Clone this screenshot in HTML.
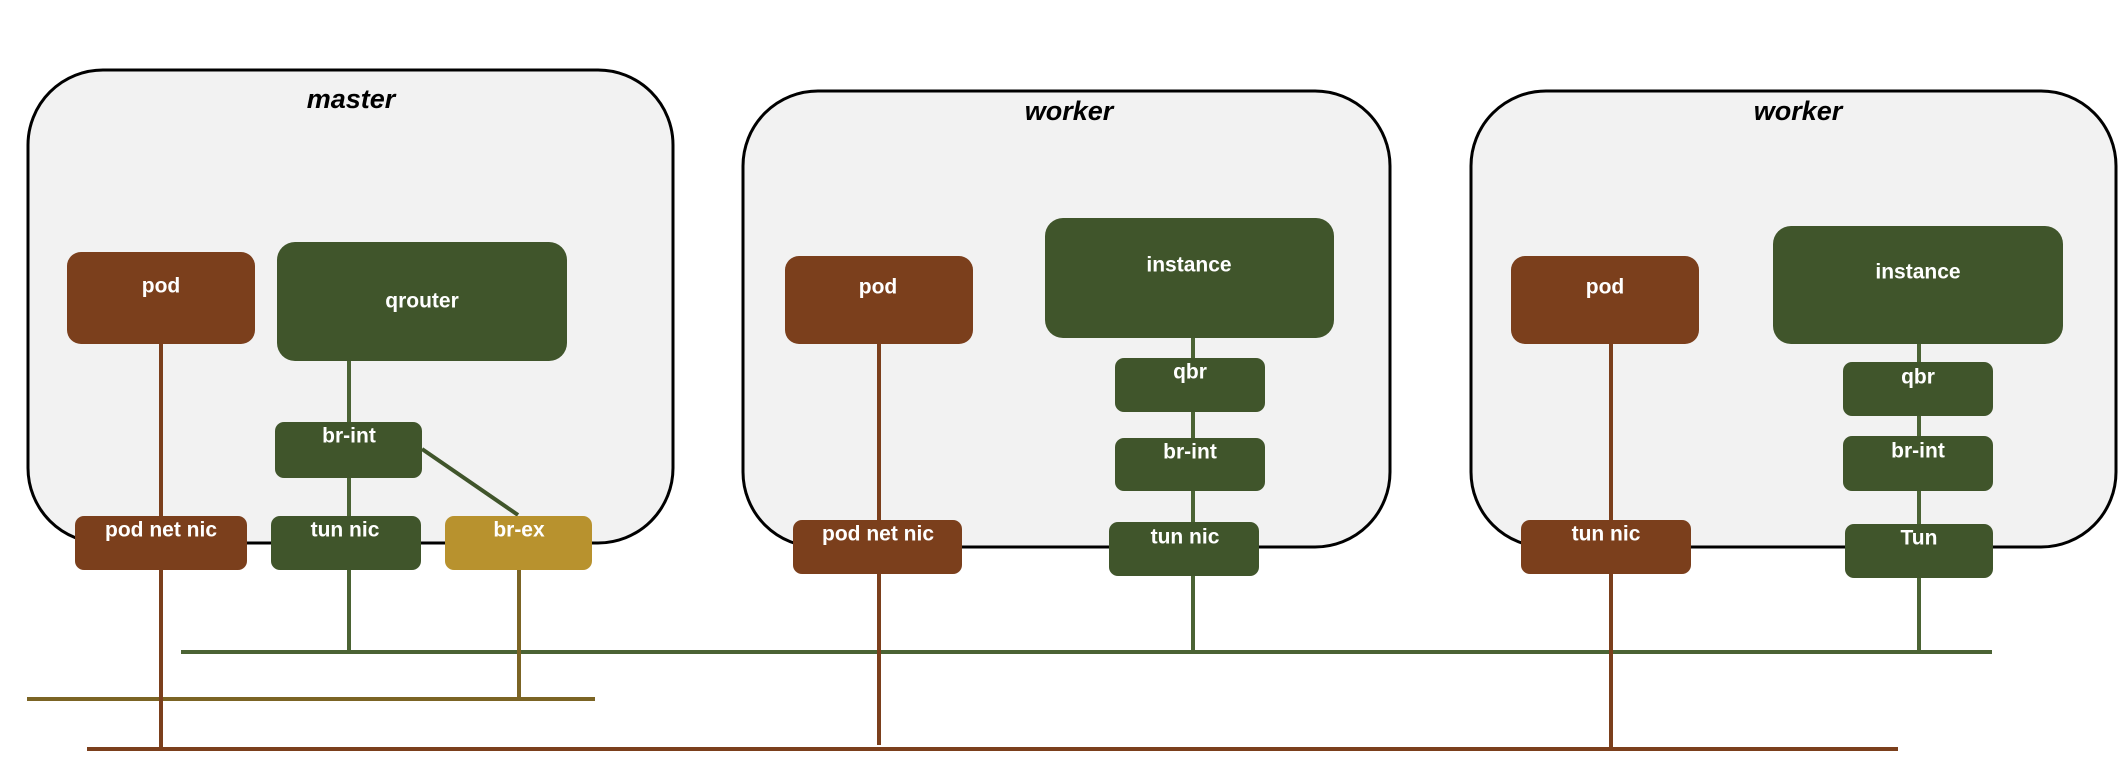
<!DOCTYPE html>
<html><head><meta charset="utf-8"><style>
html,body{margin:0;padding:0;background:#fff;}
svg{display:block;}
text{font-family:"Liberation Sans",sans-serif;font-weight:bold;fill:#fff;font-size:21px;text-anchor:middle;dominant-baseline:central;}
.t{fill:#000;font-style:italic;font-size:27px;}
</style></head><body>
<svg width="2124" height="772" viewBox="0 0 2124 772" xmlns="http://www.w3.org/2000/svg">
<!-- containers -->
<rect x="28" y="70" width="645" height="473" rx="75" fill="#f2f2f2" stroke="#000" stroke-width="3"/>
<rect x="743" y="91" width="647" height="456" rx="75" fill="#f2f2f2" stroke="#000" stroke-width="3"/>
<rect x="1471" y="91" width="645" height="456" rx="75" fill="#f2f2f2" stroke="#000" stroke-width="3"/>
<text class="t" x="351" y="99">master</text>
<text class="t" x="1069" y="111">worker</text>
<text class="t" x="1798" y="111">worker</text>

<!-- buses -->
<line x1="181" y1="652" x2="1992" y2="652" stroke="#4b6334" stroke-width="4"/>
<line x1="27" y1="699" x2="595" y2="699" stroke="#7b6424" stroke-width="4"/>
<line x1="87" y1="749" x2="1898" y2="749" stroke="#7b3f1c" stroke-width="4"/>

<!-- master lines -->
<line x1="161" y1="344" x2="161" y2="749" stroke="#7b3f1c" stroke-width="4"/>
<line x1="349" y1="361" x2="349" y2="652" stroke="#4b6334" stroke-width="4"/>
<line x1="519" y1="570" x2="519" y2="699" stroke="#7b6424" stroke-width="4"/>
<line x1="422" y1="449" x2="518" y2="515" stroke="#40552b" stroke-width="4"/>
<!-- worker1 lines -->
<line x1="879" y1="344" x2="879" y2="745" stroke="#7b3f1c" stroke-width="4"/>
<line x1="1193" y1="338" x2="1193" y2="652" stroke="#4b6334" stroke-width="4"/>
<!-- worker2 lines -->
<line x1="1611" y1="344" x2="1611" y2="749" stroke="#7b3f1c" stroke-width="4"/>
<line x1="1919" y1="344" x2="1919" y2="652" stroke="#4b6334" stroke-width="4"/>

<!-- master nodes -->
<rect x="67" y="252" width="188" height="92" rx="14" fill="#7b3f1c"/><text x="161" y="286">pod</text>
<rect x="277" y="242" width="290" height="119" rx="18" fill="#40552b"/><text x="422" y="301">qrouter</text>
<rect x="275" y="422" width="147" height="56" rx="9" fill="#40552b"/><text x="349" y="436">br-int</text>
<rect x="75" y="516" width="172" height="54" rx="9" fill="#7b3f1c"/><text x="161" y="530">pod net nic</text>
<rect x="271" y="516" width="150" height="54" rx="9" fill="#40552b"/><text x="345" y="530">tun nic</text>
<rect x="445" y="516" width="147" height="54" rx="9" fill="#b8922e"/><text x="519" y="530">br-ex</text>

<!-- worker1 nodes -->
<rect x="785" y="256" width="188" height="88" rx="14" fill="#7b3f1c"/><text x="878" y="287">pod</text>
<rect x="1045" y="218" width="289" height="120" rx="18" fill="#40552b"/><text x="1189" y="265">instance</text>
<rect x="1115" y="358" width="150" height="54" rx="9" fill="#40552b"/><text x="1190" y="372">qbr</text>
<rect x="1115" y="438" width="150" height="53" rx="9" fill="#40552b"/><text x="1190" y="452">br-int</text>
<rect x="793" y="520" width="169" height="54" rx="9" fill="#7b3f1c"/><text x="878" y="534">pod net nic</text>
<rect x="1109" y="522" width="150" height="54" rx="9" fill="#40552b"/><text x="1185" y="537">tun nic</text>

<!-- worker2 nodes -->
<rect x="1511" y="256" width="188" height="88" rx="14" fill="#7b3f1c"/><text x="1605" y="287">pod</text>
<rect x="1773" y="226" width="290" height="118" rx="18" fill="#40552b"/><text x="1918" y="272">instance</text>
<rect x="1843" y="362" width="150" height="54" rx="9" fill="#40552b"/><text x="1918" y="377">qbr</text>
<rect x="1843" y="436" width="150" height="55" rx="9" fill="#40552b"/><text x="1918" y="451">br-int</text>
<rect x="1521" y="520" width="170" height="54" rx="9" fill="#7b3f1c"/><text x="1606" y="534">tun nic</text>
<rect x="1845" y="524" width="148" height="54" rx="9" fill="#40552b"/><text x="1919" y="538">Tun</text>
</svg>
</body></html>
